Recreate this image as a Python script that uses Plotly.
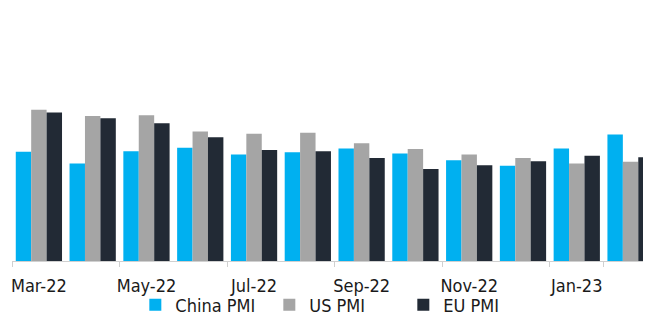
import plotly.graph_objects as go

months = ["Mar-22", "Apr-22", "May-22", "Jun-22", "Jul-22", "Aug-22",
          "Sep-22", "Oct-22", "Nov-22", "Dec-22", "Jan-23", "Feb-23"]
china_pmi = [49.5, 47.4, 49.6, 50.2, 49.0, 49.4, 50.1, 49.2, 48.0, 47.0, 50.1, 52.6]
us_pmi = [57.0, 55.9, 56.0, 53.1, 52.7, 52.9, 51.0, 50.0, 49.0, 48.4, 47.4, 47.7]
eu_pmi = [56.5, 55.5, 54.6, 52.1, 49.8, 49.6, 48.4, 46.4, 47.1, 47.8, 48.8, 48.5]

series = [("China PMI", china_pmi, "#00B0F0"),
          ("US PMI", us_pmi, "#A5A5A5"),
          ("EU PMI", eu_pmi, "#222A35")]

FONT = "DejaVu Sans Condensed, DejaVu Sans, sans-serif"

fig = go.Figure()
for name, vals, col in series:
    fig.add_trace(go.Bar(x=months, y=vals, name=name, marker_color=col,
                         marker_line_width=0))

# page body adds an 8px margin; figure sized so the plot lands where the reference has it
fig.update_layout(
    width=643, height=308,
    margin=dict(l=4, r=0, t=2, b=55, autoexpand=False),
    paper_bgcolor="white", plot_bgcolor="white",
    barmode="group", bargap=0.14, bargroupgap=0,
    font=dict(family=FONT, size=18, color="#1a1a1a"),
    showlegend=True,
    legend=dict(orientation="h", x=0.193, xanchor="left", y=-0.175, yanchor="middle",
                font=dict(family=FONT, size=18, color="#1a1a1a"), itemwidth=30,
                entrywidth=89, entrywidthmode="pixels",
                bgcolor="rgba(0,0,0,0)"),
    xaxis=dict(type="category", range=[-0.5, 11.38], tickmode="array",
               tickvals=months[::2], ticktext=months[::2], tickangle=0,
               tickson="boundaries", ticks="outside", ticklen=5,
               tickcolor="#d0d0d0", showline=True, linecolor="#d0d0d0", linewidth=1,
               showgrid=False, automargin=False, ticklabelstandoff=8,
               tickfont=dict(family=FONT, size=18, color="#1a1a1a")),
    yaxis=dict(range=[30, 74.8], visible=False, showgrid=False, zeroline=False),
)

fig.write_html("out.html")
